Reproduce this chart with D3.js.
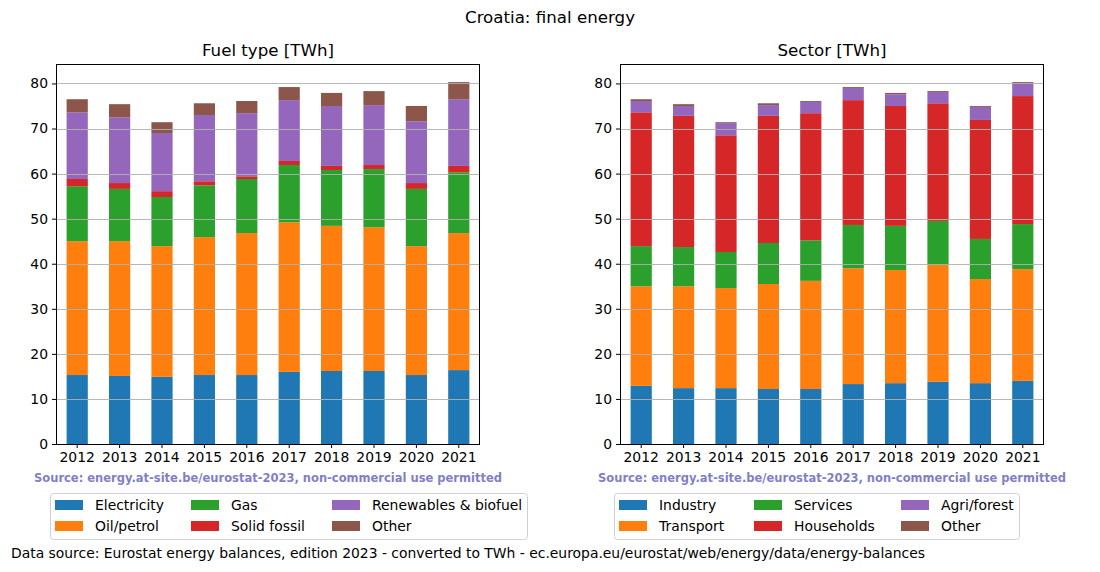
<!DOCTYPE html>
<html><head><meta charset="utf-8">
<script src="https://cdn.jsdelivr.net/npm/d3@7"></script>
<style>
body{margin:0;background:#fff;}
text{font-family:"DejaVu Sans",sans-serif;}
</style></head>
<body>
<svg id="chart" width="1100" height="572"></svg>
<script>
const years = ["2012","2013","2014","2015","2016","2017","2018","2019","2020","2021"];
const yTicks = [0,10,20,30,40,50,60,70,80];

const fuelNames = ["Electricity","Oil/petrol","Gas","Solid fossil","Renewables & biofuel","Other"];
const fuelElectricity = [15.3,15.1,14.9,15.3,15.3,16.0,16.2,16.2,15.3,16.4];
const fuelOil         = [29.7,29.9,29.0,30.6,31.5,33.2,32.2,31.9,28.6,30.4];
const fuelGas         = [12.2,11.6,10.9,11.5,12.0,12.7,12.4,12.9,12.7,13.5];
const fuelSolid       = [1.6,1.3,1.3,0.9,0.6,0.9,0.9,0.9,1.3,1.4];
const fuelRenewables  = [14.8,14.6,12.9,14.7,14.0,13.5,13.3,13.3,13.7,14.8];
const fuelOther       = [2.9,2.9,2.4,2.6,2.7,2.9,2.9,3.1,3.4,3.8];

const sectorNames = ["Industry","Transport","Services","Households","Agri/forest","Other"];
const secIndustry   = [12.9,12.4,12.4,12.2,12.2,13.3,13.5,13.8,13.5,14.0];
const secTransport  = [22.1,22.6,22.2,23.3,24.0,25.7,25.1,25.9,23.1,24.8];
const secServices   = [8.9,8.7,8.0,9.1,9.0,9.6,9.8,9.8,8.9,10.0];
const secHouseholds = [29.7,29.1,25.9,28.2,28.2,27.7,26.6,26.1,26.4,28.4];
const secAgri       = [2.5,2.2,2.7,2.4,2.5,2.7,2.6,2.5,2.9,2.9];
const secOther      = [0.4,0.4,0.2,0.4,0.2,0.2,0.3,0.2,0.2,0.2];

const colors = ["#1f77b4","#ff7f0e","#2ca02c","#d62728","#9467bd","#8c564b"];
const FS = "13.9px";

const svg = d3.select("#chart");

svg.append("text").attr("x",550).attr("y",23).attr("text-anchor","middle")
  .attr("font-size","16.67px").attr("fill","#000").text("Croatia: final energy");

function panel(x0, x1, title, names, series, legendCfg){
  const top = 64, bottom = 444;
  const tableRows = years.map((y,i)=>{
    const o = {year:y};
    names.forEach((n,k)=>o[n]=series[k][i]);
    return o;
  });
  const stacked = d3.stack().keys(names)(tableRows);
  const totals = tableRows.map(r=>d3.sum(names,n=>r[n]));
  const ymax = d3.max(totals)*1.05;
  const y = d3.scaleLinear().domain([0,ymax]).range([bottom,top]);
  const x = d3.scaleBand().domain(years).range([x0,x1]).paddingInner(0.5).paddingOuter(0.25);
  const g = svg.append("g");

  stacked.forEach((s,k)=>{
    g.append("g").selectAll("rect").data(s).join("rect")
      .attr("x",d=>x(d.data.year)).attr("width",x.bandwidth())
      .attr("y",d=>y(d[1])).attr("height",d=>y(d[0])-y(d[1]))
      .attr("fill",colors[k]);
  });
  g.append("g").selectAll("line").data(yTicks).join("line")
    .attr("x1",x0).attr("x2",x1).attr("y1",d=>Math.round(y(d))+0.5).attr("y2",d=>Math.round(y(d))+0.5)
    .attr("stroke","#b0b0b0").attr("stroke-width",0.9);

  const ya = d3.axisLeft(y).tickValues(yTicks).tickSize(4).tickPadding(4).tickFormat(d3.format("d"));
  const ga = g.append("g").attr("transform",`translate(${x0},0)`).call(ya);
  ga.select(".domain").remove();
  ga.selectAll("text").attr("font-size",FS).attr("font-family","DejaVu Sans").attr("fill","#000");
  ga.selectAll("line").attr("stroke","#000");

  const xa = d3.axisBottom(x).tickSize(4).tickPadding(4);
  const gx = g.append("g").attr("transform",`translate(0,${bottom})`).call(xa);
  gx.select(".domain").remove();
  gx.selectAll("text").attr("font-size",FS).attr("font-family","DejaVu Sans").attr("fill","#000");
  gx.selectAll("line").attr("stroke","#000");

  g.append("rect").attr("x",x0+0.5).attr("y",top+0.5).attr("width",x1-x0-1).attr("height",bottom-top)
    .attr("fill","none").attr("stroke","#000").attr("stroke-width",1);

  g.append("text").attr("x",(x0+x1)/2).attr("y",56).attr("text-anchor","middle")
    .attr("font-size","16.67px").attr("fill","#000").text(title);

  g.append("text").attr("x",(x0+x1)/2).attr("y",482).attr("text-anchor","middle")
    .attr("font-size","11.5px").attr("font-weight","bold").attr("fill","#7f7fc9")
    .text("Source: energy.at-site.be/eurostat-2023, non-commercial use permitted");

  const L = legendCfg;
  g.append("rect").attr("x",L.x+0.5).attr("y",493.5).attr("width",L.w).attr("height",46).attr("rx",3)
    .attr("fill","#fff").attr("stroke","#d0d0d0").attr("stroke-width",1);
  names.forEach((n,k)=>{
    const col = Math.floor(k/2), row = k%2;
    const px = L.cols[col], py = 500 + row*21;
    g.append("rect").attr("x",px).attr("y",py).attr("width",28).attr("height",10).attr("fill",colors[k]);
    g.append("text").attr("x",px+40).attr("y",py+10).attr("font-size",FS).attr("fill","#000").text(n);
  });
}

panel(56,480,"Fuel type [TWh]",fuelNames,
  [fuelElectricity,fuelOil,fuelGas,fuelSolid,fuelRenewables,fuelOther],
  {x:50,w:477,cols:[55,191,332]});
panel(620,1044,"Sector [TWh]",sectorNames,
  [secIndustry,secTransport,secServices,secHouseholds,secAgri,secOther],
  {x:614,w:405,cols:[619,754,901]});

svg.append("text").attr("x",11).attr("y",558).attr("font-size",FS).attr("fill","#000")
  .text("Data source: Eurostat energy balances, edition 2023 - converted to TWh - ec.europa.eu/eurostat/web/energy/data/energy-balances");
</script>
</body></html>
